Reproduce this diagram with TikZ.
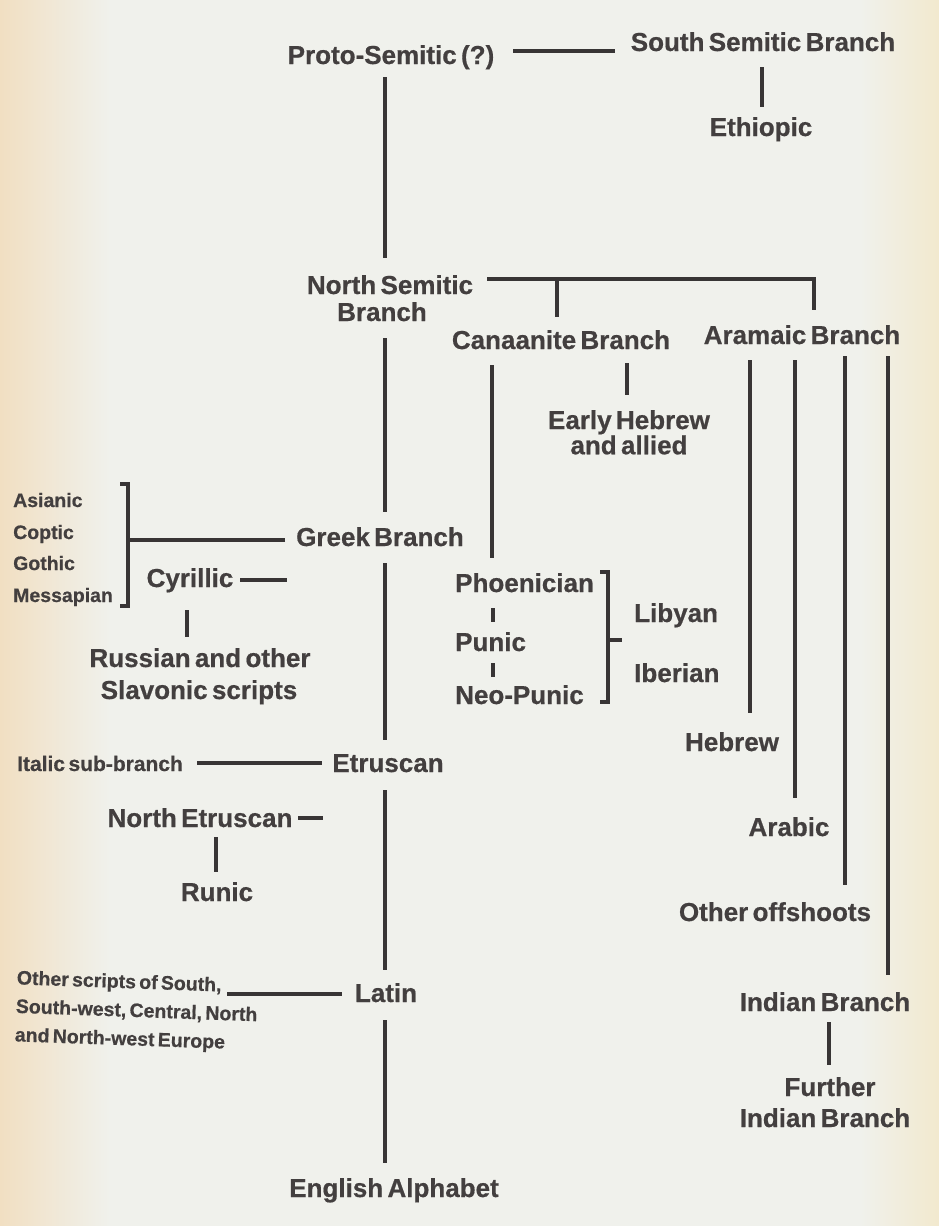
\documentclass[tikz,border=0pt]{standalone}
\usepackage{fontspec}
\setmainfont{Liberation Sans}[WordSpace=0.6, BoldFeatures={FakeBold=0.6}]
\usetikzlibrary{calc}
\definecolor{ink}{HTML}{433F3F}
\definecolor{rule}{HTML}{383535}
\definecolor{paper}{HTML}{F0F1EC}
\definecolor{paperL}{HTML}{F1DFC2}
\definecolor{paperR}{HTML}{F2E9CE}
\begin{document}
\begin{tikzpicture}[x=1pt,y=-1pt,
  lbl/.style={inner sep=0pt, text=ink, font=\fontsize{26}{28}\selectfont\bfseries, anchor=base},
  lblw/.style={lbl, anchor=base west},
  sml/.style={inner sep=0pt, text=ink, font=\fontsize{19.5}{21}\selectfont\bfseries, anchor=base west},
  conn/.style={draw=rule, line width=3.2pt},
]
% paper
\fill[paper] (0,0) rectangle (939,1226);
\shade[left color=paperL, right color=paper] (0,0) rectangle (110,1226);
\shade[left color=paper, right color=paperR] (860,0) rectangle (939,1226);
\useasboundingbox (0,0) rectangle (939,1226);

% ---- nodes ----
\node[lbl] (proto) at (391,64) {Proto-Semitic (?)};
\node[lbl] (south) at (763,51) {South Semitic Branch};
\node[lbl] (ethiopic) at (761,136) {Ethiopic};
\node[lbl] (north) at (390,294) {North Semitic};
\node[lbl] (northb) at (382,321) {Branch};
\node[lbl] (canaan) at (561,349) {Canaanite Branch};
\node[lbl] (aramaic) at (802,344) {Aramaic Branch};
\node[lbl, anchor=north, align=center, font=\fontsize{26}{23.5}\selectfont\bfseries] (earlyh) at (629,410) {Early Hebrew\\and allied};
\node[lbl] (greek) at (380,546) {Greek Branch};
\node[sml] (asianic) at (13,507) {Asianic};
\node[sml] (coptic) at (13,539) {Coptic};
\node[sml] (gothic) at (13,570) {Gothic};
\node[sml] (messap) at (13,602) {Messapian};
\node[lbl] (cyrillic) at (190,587) {Cyrillic};
\node[lbl] (russian) at (200,667) {Russian and other};
\node[lbl] (slavonic) at (199,699) {Slavonic scripts};
\node[lblw] (phoen) at (455,592) {Phoenician};
\node[lblw] (punic) at (455,651) {Punic};
\node[lblw] (neopunic) at (455,704) {Neo-Punic};
\node[lblw] (libyan) at (634,622) {Libyan};
\node[lblw] (iberian) at (634,682) {Iberian};
\node[lbl] (hebrew) at (732,751) {Hebrew};
\node[lbl] (arabic) at (789,836) {Arabic};
\node[lbl] (offshoots) at (775,921) {Other offshoots};
\node[lbl] (indian) at (825,1011) {Indian Branch};
\node[lbl] (further) at (830,1096) {Further};
\node[lbl] (furtherb) at (825,1127) {Indian Branch};
\node[sml, font=\fontsize{21}{23}\selectfont\bfseries] (italic) at (17,771) {Italic sub-branch};
\node[lbl] (etruscan) at (388,772) {Etruscan};
\node[lbl] (northetr) at (200,827) {North Etruscan};
\node[lbl] (runic) at (217,901) {Runic};
\node[lbl] (latin) at (386,1002) {Latin};
\node[sml, anchor=north west, align=left, rotate=-2, font=\fontsize{19.5}{28.5}\selectfont\bfseries] (other) at (17,970)
  {Other scripts of South,\\South-west, Central, North\\and North-west Europe};
\node[lbl] (english) at (394,1197) {English Alphabet};

% ---- connector end points ----
\coordinate (c1a) at (513,51);  \coordinate (c1b) at (615,51);
\coordinate (c2a) at (762,67);  \coordinate (c2b) at (762,107);
\coordinate (m1a) at (385,77);  \coordinate (m1b) at (385,258);
\coordinate (n1) at (487,279);  \coordinate (n2) at (814,279);
\coordinate (n3) at (814,310);  \coordinate (n4) at (557,279);
\coordinate (n5) at (557,317);
\coordinate (m2a) at (385,338); \coordinate (m2b) at (385,512);
\coordinate (g1) at (285,540);  \coordinate (g2) at (128,540);
\coordinate (gb1) at (120,484); \coordinate (gb2) at (128,484);
\coordinate (gb3) at (128,606); \coordinate (gb4) at (120,606);
\coordinate (cy1) at (240,580); \coordinate (cy2) at (287,580);
\coordinate (cy3) at (187,610); \coordinate (cy4) at (187,637);
\coordinate (m3a) at (385,563); \coordinate (m3b) at (385,740);
\coordinate (k1a) at (492,365); \coordinate (k1b) at (492,558);
\coordinate (k2a) at (627,363); \coordinate (k2b) at (627,395);
\coordinate (p1a) at (493,608); \coordinate (p1b) at (493,622);
\coordinate (p2a) at (493,663); \coordinate (p2b) at (493,677);
\coordinate (b1) at (600,572);  \coordinate (b2) at (608,572);
\coordinate (b3) at (608,702);  \coordinate (b4) at (600,702);
\coordinate (b5) at (608,640);  \coordinate (b6) at (622,640);
\coordinate (a1a) at (750,360); \coordinate (a1b) at (750,713);
\coordinate (a2a) at (795,360); \coordinate (a2b) at (795,798);
\coordinate (a3a) at (845,356); \coordinate (a3b) at (845,885);
\coordinate (a4a) at (888,356); \coordinate (a4b) at (888,975);
\coordinate (it1) at (197,763); \coordinate (it2) at (322,763);
\coordinate (m4a) at (385,790); \coordinate (m4b) at (385,970);
\coordinate (ne1) at (298,818); \coordinate (ne2) at (323,818);
\coordinate (ne3) at (216,837); \coordinate (ne4) at (216,872);
\coordinate (ot1) at (227,994); \coordinate (ot2) at (342,994);
\coordinate (m5a) at (385,1020); \coordinate (m5b) at (385,1163);
\coordinate (in1) at (829,1022); \coordinate (in2) at (829,1065);

% ---- connectors ----
\draw[conn] (c1a) -- (c1b);
\draw[conn] (c2a) -- (c2b);
\draw[conn] (m1a) -- (m1b);
\draw[conn] (n1) -- (n2) -- (n3);
\draw[conn] (n4) -- (n5);
\draw[conn] (m2a) -- (m2b);
\draw[conn] (g1) -- (g2);
\draw[conn] (gb1) -- (gb2) -- (gb3) -- (gb4);
\draw[conn] (cy1) -- (cy2);
\draw[conn] (cy3) -- (cy4);
\draw[conn] (m3a) -- (m3b);
\draw[conn] (k1a) -- (k1b);
\draw[conn] (k2a) -- (k2b);
\draw[conn] (p1a) -- (p1b);
\draw[conn] (p2a) -- (p2b);
\draw[conn] (b1) -- (b2) -- (b3) -- (b4);
\draw[conn] (b5) -- (b6);
\draw[conn] (a1a) -- (a1b);
\draw[conn] (a2a) -- (a2b);
\draw[conn] (a3a) -- (a3b);
\draw[conn] (a4a) -- (a4b);
\draw[conn] (it1) -- (it2);
\draw[conn] (m4a) -- (m4b);
\draw[conn] (ne1) -- (ne2);
\draw[conn] (ne3) -- (ne4);
\draw[conn] (ot1) -- (ot2);
\draw[conn] (m5a) -- (m5b);
\draw[conn] (in1) -- (in2);
\end{tikzpicture}
\end{document}
